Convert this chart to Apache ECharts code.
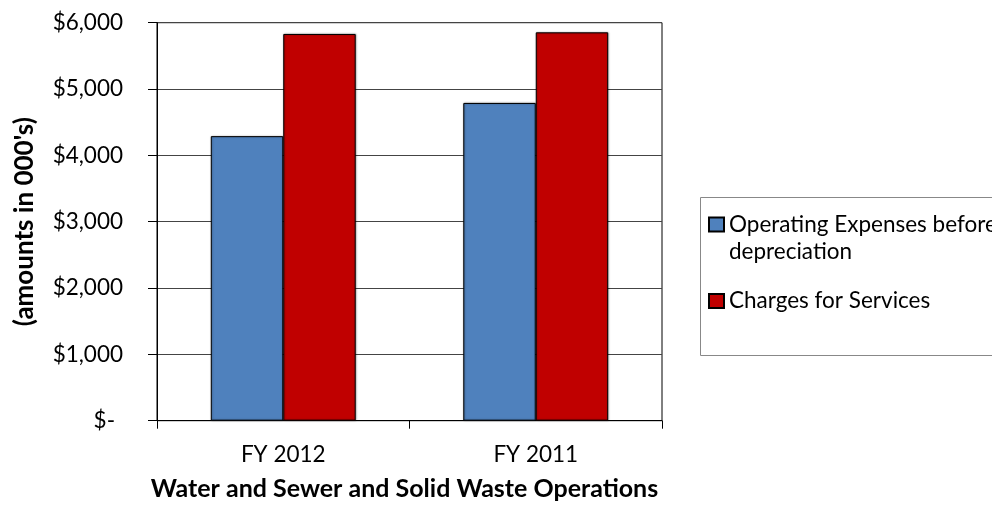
<!DOCTYPE html>
<html>
<head>
<meta charset="utf-8">
<style>
  html, body { margin: 0; padding: 0; background: #fff; }
  #chart { width: 992px; height: 508px; }
</style>
<script src="https://cdn.jsdelivr.net/npm/echarts@6/dist/echarts.min.js"></script>
</head>
<body>
<div id="chart"></div>
<script>
// Fiscal years shown on the category axis
const categories = ['FY 2012', 'FY 2011'];
// Amounts in thousands of dollars
const operatingExpenses = [4290, 4790];
const chargesForServices = [5830, 5855];
const seriesNames = ['Operating Expenses before depreciation', 'Charges for Services'];
const yTicks = [0, 1000, 2000, 3000, 4000, 5000, 6000];

const FONT = 'Lato, "Open Sans", sans-serif';
const LABEL_SIZE = 22.5;
const LINE_H = 27;

const chart = echarts.init(document.getElementById('chart'));

// Accounting style: zero is shown as a dash, set in from the right edge
function money(v) {
  if (v === 0) return '{z|$-}';
  return '$' + v.toLocaleString('en-US');
}

const legendText = { fontFamily: FONT, fontSize: LABEL_SIZE, color: '#000', lineHeight: LINE_H };
const barShadow = { shadowColor: 'rgba(0,0,0,0.35)', shadowBlur: 2, shadowOffsetX: 0.5, shadowOffsetY: 0 };

chart.setOption({
  animation: false,
  textStyle: { fontFamily: FONT },
  grid: {
    left: 157, right: 330, top: 22.7, bottom: 87.3,
    show: true, borderColor: '#000', borderWidth: 1
  },
  xAxis: {
    type: 'category',
    data: categories,
    name: 'Water and Sewer and Solid Waste Operations',
    nameLocation: 'middle',
    nameGap: 56,
    nameTextStyle: { fontFamily: FONT, fontWeight: 'bold', fontSize: 25, color: '#000', padding: [0, 10, 0, 0] },
    axisLine: { lineStyle: { color: '#000', width: 1 } },
    axisTick: { show: true, length: 8, lineStyle: { color: '#000' } },
    axisLabel: { fontFamily: FONT, fontSize: LABEL_SIZE, color: '#000', margin: 23 }
  },
  yAxis: {
    type: 'value',
    min: yTicks[0],
    max: yTicks[yTicks.length - 1],
    interval: 1000,
    name: "(amounts in 000's)",
    nameLocation: 'middle',
    nameGap: 119,
    nameRotate: 90,
    nameTextStyle: { fontFamily: FONT, fontWeight: 'bold', fontSize: 26, color: '#000' },
    axisLine: { show: true, lineStyle: { color: '#000', width: 1 } },
    axisTick: { show: true, length: 9, lineStyle: { color: '#000' } },
    axisLabel: {
      fontFamily: FONT, fontSize: LABEL_SIZE, color: '#000', margin: 34, formatter: money,
      rich: { z: { fontFamily: FONT, fontSize: LABEL_SIZE, color: '#000', padding: [0, 8, 0, 0] } }
    },
    splitLine: { show: true, lineStyle: { color: '#444', width: 1 } }
  },
  legend: [
    {
      orient: 'vertical',
      left: 708, top: 184, padding: 0,
      itemWidth: 15, itemHeight: 14,
      icon: 'rect',
      textStyle: legendText,
      // leading blank line keeps the swatch level with the first line of text
      formatter: function () { return '\nOperating Expenses before\ndepreciation'; },
      data: [seriesNames[0]]
    },
    {
      orient: 'vertical',
      left: 708, top: 287.5, padding: 0,
      itemWidth: 15, itemHeight: 14,
      icon: 'rect',
      textStyle: legendText,
      data: [seriesNames[1]]
    }
  ],
  graphic: [{
    type: 'rect',
    shape: { x: 700.5, y: 197.5, width: 320, height: 158 },
    style: { fill: 'none', stroke: '#888', lineWidth: 1 },
    silent: true
  }],
  series: [
    {
      name: seriesNames[0],
      type: 'bar',
      data: operatingExpenses,
      barGap: '0%',
      barCategoryGap: '42.6%',
      itemStyle: Object.assign({ color: '#4F81BD', borderColor: '#000', borderWidth: 1 }, barShadow)
    },
    {
      name: seriesNames[1],
      type: 'bar',
      data: chargesForServices,
      itemStyle: Object.assign({ color: '#C00000', borderColor: '#000', borderWidth: 1 }, barShadow)
    }
  ]
});
</script>
</body>
</html>
